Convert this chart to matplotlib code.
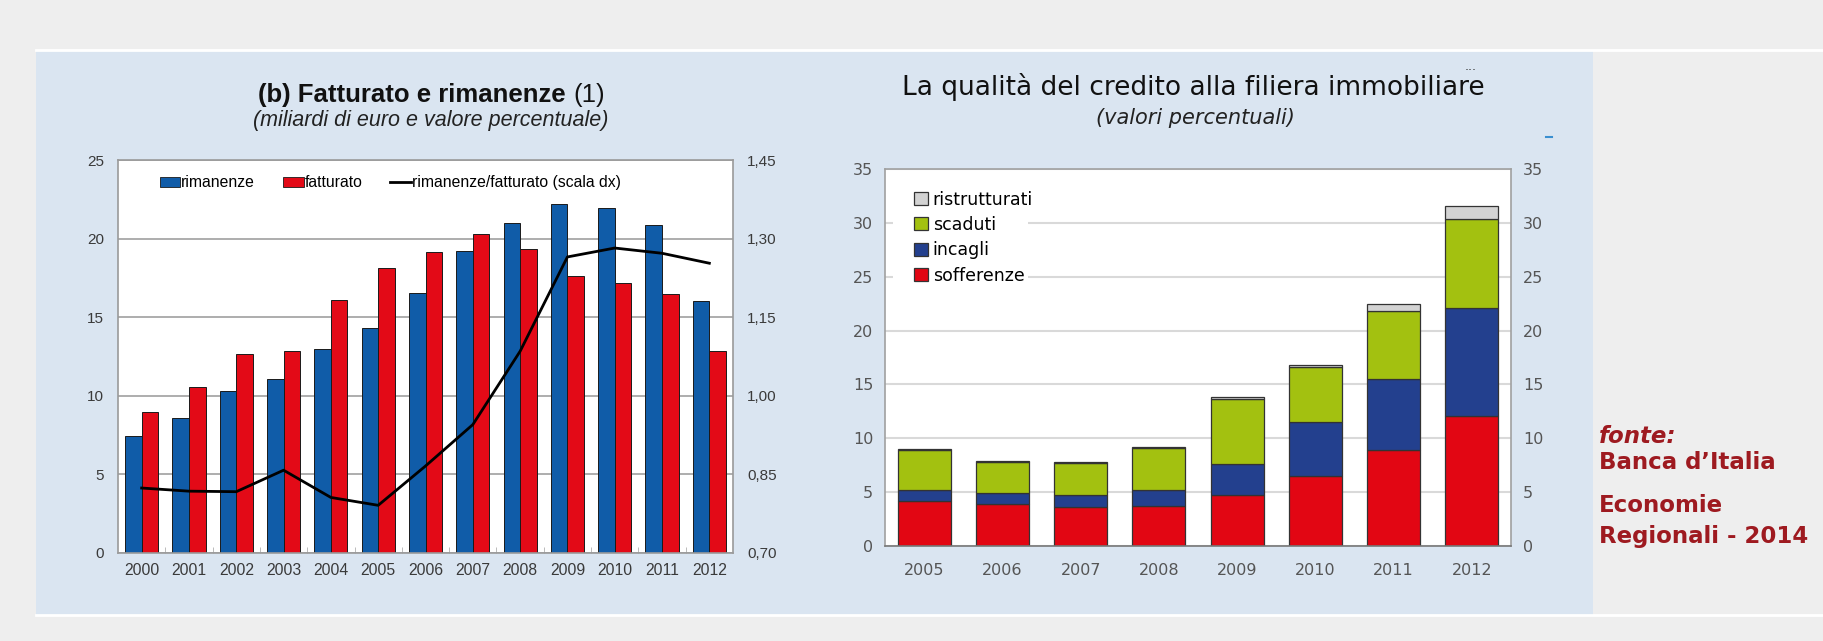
import numpy as np
import matplotlib.pyplot as plt
from matplotlib.patches import Patch, Rectangle
from matplotlib.lines import Line2D

# (b) fatturato e rimanenze, 2000-2012
anni_a = ["2000", "2001", "2002", "2003", "2004", "2005", "2006",
          "2007", "2008", "2009", "2010", "2011", "2012"]
rimanenze = [7.46, 8.58, 10.32, 11.06, 12.99, 14.34, 16.53, 19.2, 21.0, 22.18, 21.93, 20.87, 16.06]
fatturato = [9.0, 10.53, 12.65, 12.82, 16.1, 18.11, 19.13, 20.3, 19.34, 17.63, 17.16, 16.46, 12.82]
rapporto = [0.824, 0.818, 0.817, 0.858, 0.806, 0.791, 0.866, 0.945, 1.085, 1.265, 1.282, 1.272, 1.253]
tick_sx = [0, 5, 10, 15, 20, 25]
tick_dx = [0.70, 0.85, 1.00, 1.15, 1.30, 1.45]

# qualita' del credito alla filiera immobiliare, 2005-2012
anni_b = ["2005", "2006", "2007", "2008", "2009", "2010", "2011", "2012"]
sofferenze = [4.15, 3.93, 3.62, 3.75, 4.77, 6.47, 8.89, 12.05]
incagli = [1.02, 1.03, 1.09, 1.48, 2.82, 5.05, 6.66, 10.0]
scaduti = [3.72, 2.84, 3.0, 3.87, 6.1, 5.11, 6.25, 8.27]
ristrutturati = [0.1, 0.1, 0.1, 0.1, 0.1, 0.22, 0.71, 1.27]
tick_b = [0, 5, 10, 15, 20, 25, 30, 35]

W, H = 1823, 641
fig = plt.figure(figsize=(W / 100, H / 100), dpi=100)
fig.patch.set_facecolor("#eeeeee")

# pannello azzurro di sfondo
fig.add_artist(Rectangle((36 / W, 1 - 615 / H), (1593 - 36) / W, (615 - 50) / H,
                         transform=fig.transFigure, facecolor="#dae5f1",
                         edgecolor="none", zorder=0))
for yy in (50, 615):
    fig.add_artist(Line2D([36 / W, 1], [1 - yy / H] * 2, color="white", lw=2, zorder=0))

# ---- grafico di sinistra ----
ax1 = fig.add_axes([118 / W, 1 - 553 / H, 615 / W, 393 / H])
x = np.arange(len(anni_a))
w = 0.35
blu_a = "#105ca8"
rosso_a = "#e30a17"
ax1.bar(x - w / 2, rimanenze, w, color=blu_a, edgecolor="#1a1a1a", lw=0.7, zorder=2)
ax1.bar(x + w / 2, fatturato, w, color=rosso_a, edgecolor="#1a1a1a", lw=0.7, zorder=2)
ax1.set_xlim(-0.5, len(anni_a) - 0.5)
ax1.set_ylim(0, 25)
ax1.set_yticks(tick_sx)
ax1.set_xticks(x)
ax1.set_xticklabels(anni_a)
ax1.set_xticks(x[:-1] + 0.5, minor=True)
ax1.grid(axis="y", color="#a0a0a0", lw=1.2)
ax1.set_axisbelow(True)
ax1.tick_params(axis="y", length=0, pad=10, labelsize=11, labelcolor="#3a3a3a")
ax1.tick_params(axis="x", which="major", length=0, pad=7, labelsize=11.3, labelcolor="#3a3a3a")
ax1.tick_params(axis="x", which="minor", direction="in", length=4, color="#b0b0b0")
for s in ax1.spines.values():
    s.set_color("#9a9a9a")
    s.set_linewidth(1.2)
for lab in ax1.get_xticklabels() + ax1.get_yticklabels():
    lab.set_fontfamily("Liberation Sans")

ax1b = ax1.twinx()
ax1b.plot(x, rapporto, color="black", lw=2, zorder=3)
ax1b.set_ylim(0.70, 1.45)
ax1b.set_yticks(tick_dx)
ax1b.set_yticklabels([f"{v:.2f}".replace(".", ",") for v in tick_dx],
                     fontfamily="Liberation Sans")
ax1b.tick_params(axis="y", length=0, pad=10, labelsize=11, labelcolor="#3a3a3a")
for s in ax1b.spines.values():
    s.set_visible(False)

handles = [Patch(facecolor=blu_a, edgecolor="#1a1a1a", lw=0.6),
           Patch(facecolor=rosso_a, edgecolor="#1a1a1a", lw=0.6),
           Line2D([], [], color="black", lw=2)]
ax1.legend(handles, ["rimanenze", "fatturato", "rimanenze/fatturato (scala dx)"],
           ncol=3, loc="center left", bbox_to_anchor=(0.068, 0.9415),
           frameon=False, borderaxespad=0, borderpad=0, handlelength=1.3,
           handleheight=0.65, handletextpad=0.05, columnspacing=1.8,
           prop={"family": "Liberation Sans", "size": 11.3})

fig.text(566 / W, 1 - 101.7 / H, "(b) Fatturato e rimanenze", ha="right", va="baseline",
         fontsize=18.5, fontweight="bold", fontfamily="Liberation Sans", color="#111111")
fig.text(573 / W, 1 - 101.7 / H, "(1)", ha="left", va="baseline",
         fontsize=18.5, fontfamily="Liberation Sans", color="#111111")
fig.text(431 / W, 1 - 126 / H, "(miliardi di euro e valore percentuale)", ha="center",
         va="baseline", fontsize=15.5, fontstyle="italic", fontfamily="Liberation Sans",
         color="#222222")

# ---- grafico di destra ----
ax2 = fig.add_axes([885 / W, 1 - 546 / H, 626 / W, 377 / H])
xb = np.arange(len(anni_b))
wb = 0.68
bordo = "#333333"
base = np.zeros(len(anni_b))
strati = [("sofferenze", sofferenze, "#e20613"),
          ("incagli", incagli, "#23408e"),
          ("scaduti", scaduti, "#a3c110"),
          ("ristrutturati", ristrutturati, "#d3d3d3")]
for nome, vals, col in strati:
    ax2.bar(xb, vals, wb, bottom=base, color=col, edgecolor=bordo, lw=0.9, zorder=2)
    base = base + np.array(vals)
ax2.set_xlim(-0.5, len(anni_b) - 0.5)
ax2.set_ylim(0, 35)
ax2.set_yticks(tick_b)
ax2.set_xticks(xb)
ax2.set_xticklabels(anni_b)
ax2.grid(axis="y", color="#d9d9d9", lw=1.5)
ax2.set_axisbelow(True)
ax2.tick_params(axis="y", length=0, pad=8.5, labelsize=11.5, labelcolor="#555555",
                labelright=True)
ax2.tick_params(axis="x", length=0, pad=12, labelsize=11.5, labelcolor="#555555")
for s in ax2.spines.values():
    s.set_color("#a0a0a0")
    s.set_linewidth(1.2)
ax2.spines["bottom"].set_color("#777777")

# fondo bianco dietro la legenda
ax2.add_patch(Rectangle((0.0128, 0.679), 0.215, 0.278, transform=ax2.transAxes,
                        facecolor="white", edgecolor="none", zorder=1))
leg_h = [Patch(facecolor=c, edgecolor=bordo, lw=0.9) for _, _, c in strati[::-1]]
leg_l = [n for n, _, _ in strati[::-1]]
ax2.legend(leg_h, leg_l, loc="center left", bbox_to_anchor=(0.0468, 0.818),
           frameon=False, borderaxespad=0, borderpad=0, handlelength=0.77,
           handleheight=0.77, handletextpad=0.3, labelspacing=0.42,
           prop={"size": 12.5})

fig.text(1193 / W, 1 - 95 / H, "La qualità del credito alla filiera immobiliare",
         ha="center", va="baseline", fontsize=19, color="#111111")
fig.text(1195 / W, 1 - 124 / H, "(valori percentuali)", ha="center", va="baseline",
         fontsize=15, fontstyle="italic", color="#222222")
fig.text(1471 / W, 1 - 70 / H, "...", ha="center", va="baseline", fontsize=9, color="#333333")
fig.add_artist(Line2D([1546 / W, 1552 / W], [1 - 137 / H] * 2, color="#3a8fd0", lw=1.5))

# fonte
rosso_f = "#9e1a20"
fig.text(1599 / W, 1 - 443 / H, "fonte:", fontsize=16.5, fontweight="bold",
         fontstyle="italic", color=rosso_f, va="baseline")
fig.text(1599 / W, 1 - 469 / H, "Banca d’Italia", fontsize=16.5, fontweight="bold",
         color=rosso_f, va="baseline")
fig.text(1599 / W, 1 - 512 / H, "Economie", fontsize=16.5, fontweight="bold",
         color=rosso_f, va="baseline")
fig.text(1599 / W, 1 - 543 / H, "Regionali - 2014", fontsize=16.5, fontweight="bold",
         color=rosso_f, va="baseline")

fig.savefig("out.png", dpi=100, facecolor=fig.get_facecolor())
